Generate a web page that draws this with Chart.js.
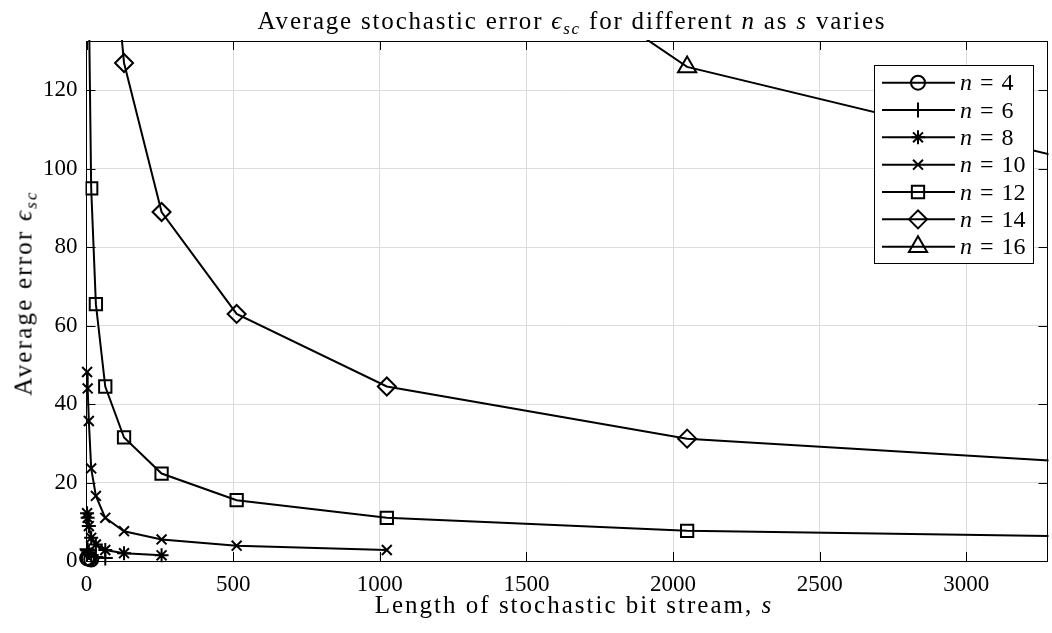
<!DOCTYPE html>
<html>
<head>
<meta charset="utf-8">
<script src="https://cdn.jsdelivr.net/npm/chart.js@4.4.1/dist/chart.umd.min.js"></script>
<style>
  html, body { margin: 0; padding: 0; background: #fff; overflow: hidden; width: 1052px; height: 633px; }
  #wrap { position: absolute; left: 0; top: 0; width: 1060px; height: 633px; }
  .txt { position: absolute; font-family: "Liberation Serif", "DejaVu Serif", serif; color: #000; white-space: nowrap; line-height: 25px; font-size: 25px; }
  .txt i { font-style: italic; }
  .txt sub { font-size: 17px; vertical-align: -5px; line-height: 0; font-style: italic; }
  #title { left: 572px; top: 8px; transform: translateX(-50%); letter-spacing: 1.8px; }
  #xtitle { left: 574px; top: 592px; transform: translateX(-50%); letter-spacing: 2px; }
  #ytitle { left: 23px; top: 293px; transform: translate(-50%, -50%) rotate(-90deg); letter-spacing: 2.2px; }
  .leg { font-size: 24px; line-height: 24px; left: 960px; word-spacing: 2px; }
</style>
</head>
<body>
<div id="wrap"><canvas id="c" width="1060" height="633"></canvas></div>
<div class="txt" id="title">Average stochastic error <i>ϵ</i><sub>sc</sub> for different <i>n</i> as <i>s</i> varies</div>
<div class="txt" id="xtitle">Length of stochastic bit stream, <i>s</i></div>
<div class="txt" id="ytitle">Average error <i>ϵ</i><sub>sc</sub></div>
<div id="legtext"></div>
<script>
// ---- data ----
const S = [2, 4, 8, 16, 32, 64, 128, 256, 512, 1024, 2048, 4096, 8192, 16384, 32768, 65536];
const n4  = [0.75, 0.69, 0.55, 0.37];
const n6  = [3.0, 2.75, 2.2, 1.5, 1.04, 0.75];
const n8  = [12.2, 11.0, 8.9, 5.9, 4.2, 2.8, 2.0, 1.45];
const n10 = [48.2, 44.0, 35.7, 23.6, 16.6, 11.0, 7.6, 5.5, 3.9, 2.8];
const n12 = [193, 176, 143, 95, 65.5, 44.5, 31.5, 22.3, 15.5, 11.0, 7.7, 5.5];
const n14 = [771, 704, 571, 380, 266, 178, 127, 89, 63, 44.5, 31.2, 22, 15.5, 11];
const n16 = [3084, 2816, 2284, 1520, 1064, 712, 508, 356, 252, 178, 126, 89, 63, 44, 31, 22];
const seriesLabels = ['4', '6', '8', '10', '12', '14', '16'];
const seriesValues = [n4, n6, n8, n10, n12, n14, n16];
const xTicks = [0, 500, 1000, 1500, 2000, 2500, 3000];
const yTicks = [0, 20, 40, 60, 80, 100, 120];

// ---- styles ----
const markerStyles = ['circle', 'cross', 'star', 'crossRot', 'rect', 'rectRot', 'triangle'];
const markerRadii  = [7, 7.5, 7, 7, 8.7, 9, 10.5];
const clipSeries   = [false, false, false, false, 1, 1, 1];
const FONT = '"Liberation Serif", "DejaVu Serif", serif';

const datasets = seriesValues.map((vals, i) => ({
  label: 'n = ' + seriesLabels[i],
  data: vals.map((v, k) => ({ x: S[k], y: v })),
  borderColor: '#000',
  borderWidth: 2,
  pointStyle: markerStyles[i],
  pointRadius: markerRadii[i],
  pointBorderWidth: 2,
  pointBorderColor: '#000',
  pointBackgroundColor: 'rgba(0,0,0,0)',
  fill: false,
  tension: 0,
  clip: clipSeries[i]
}));

function strokeMarker(ctx, style, r, x, y) {
  ctx.save();
  ctx.strokeStyle = '#000';
  ctx.fillStyle = 'rgba(0,0,0,0)';
  ctx.lineWidth = 2;
  if (Chart.helpers && Chart.helpers.drawPoint) {
    Chart.helpers.drawPoint(ctx, { pointStyle: style, radius: r, borderWidth: 2, rotation: 0 }, x, y);
  }
  ctx.restore();
}

const frameTicks = {
  id: 'frameTicks',
  beforeDatasetsDraw(chart) {
    const { ctx, chartArea: a, scales } = chart;
    ctx.save();
    ctx.strokeStyle = '#000';
    ctx.lineWidth = 1;
    ctx.beginPath();
    ctx.moveTo(a.left, Math.round(a.top) + 0.5); ctx.lineTo(a.right, Math.round(a.top) + 0.5);
    ctx.moveTo(Math.round(a.right) - 0.5, a.top); ctx.lineTo(Math.round(a.right) - 0.5, a.bottom);
    const L = 9;
    xTicks.forEach(v => {
      const px = Math.round(scales.x.getPixelForValue(v)) + 0.5;
      ctx.moveTo(px, a.bottom); ctx.lineTo(px, a.bottom - L);
      ctx.moveTo(px, a.top); ctx.lineTo(px, a.top + L);
    });
    yTicks.forEach(v => {
      const py = Math.round(scales.y.getPixelForValue(v)) + 0.5;
      ctx.moveTo(a.left, py); ctx.lineTo(a.left + L, py);
      ctx.moveTo(a.right, py); ctx.lineTo(a.right - L, py);
    });
    ctx.stroke();
    ctx.restore();
  }
};

const LEG = { left: 874, top: 65, width: 159, height: 198, row0: 82.7, step: 27.33, x1: 882, x2: 955, mx: 918 };
const legendPlugin = {
  id: 'customLegend',
  afterDatasetsDraw(chart) {
    const ctx = chart.ctx;
    ctx.save();
    ctx.fillStyle = '#fff';
    ctx.fillRect(LEG.left, LEG.top, LEG.width, LEG.height);
    ctx.strokeStyle = '#000';
    ctx.lineWidth = 1;
    ctx.strokeRect(LEG.left + 0.5, LEG.top + 0.5, LEG.width, LEG.height);
    chart.data.datasets.forEach((ds, i) => {
      const y = LEG.row0 + i * LEG.step;
      ctx.strokeStyle = '#000';
      ctx.lineWidth = 2;
      ctx.beginPath();
      ctx.moveTo(LEG.x1, y); ctx.lineTo(LEG.x2, y);
      ctx.stroke();
      strokeMarker(ctx, ds.pointStyle, ds.pointRadius, LEG.mx, y);
    });
    ctx.restore();
  }
};

// legend texts (real text)
const legHost = document.getElementById('legtext');
seriesLabels.forEach((lab, i) => {
  const d = document.createElement('div');
  d.className = 'txt leg';
  d.style.top = (LEG.row0 + i * LEG.step - 12.5) + 'px';
  d.innerHTML = '<i>n</i> = ' + lab;
  legHost.appendChild(d);
});

new Chart(document.getElementById('c'), {
  type: 'line',
  data: { datasets },
  options: {
    responsive: false,
    animation: false,
    events: [],
    layout: { padding: { top: 41, right: 4, left: 0, bottom: 0 } },
    plugins: { legend: { display: false }, title: { display: false }, tooltip: { enabled: false } },
    scales: {
      x: {
        type: 'linear', position: 'bottom', min: 0, max: 3276.8,
        afterFit: s => { s.height = 72; },
        afterBuildTicks: s => { s.ticks = xTicks.map(v => ({ value: v })); },
        ticks: { stepSize: 500, autoSkip: false, maxRotation: 0, color: '#000', padding: 10,
                 font: { family: FONT, size: 23 }, callback: v => String(v) },
        grid: { color: '#dcdcdc', lineWidth: 1, drawTicks: false },
        border: { display: true, color: '#000', width: 1 }
      },
      y: {
        type: 'linear', position: 'left', min: 0, max: 132.6,
        afterFit: s => { s.width = 86.5; },
        afterBuildTicks: s => { s.ticks = yTicks.map(v => ({ value: v })); },
        ticks: { stepSize: 20, autoSkip: false, color: '#000', padding: 9,
                 font: { family: FONT, size: 23 }, callback: v => String(v) },
        grid: { color: '#dcdcdc', lineWidth: 1, drawTicks: false },
        border: { display: true, color: '#000', width: 1 }
      }
    }
  },
  plugins: [frameTicks, legendPlugin]
});
</script>
</body>
</html>
